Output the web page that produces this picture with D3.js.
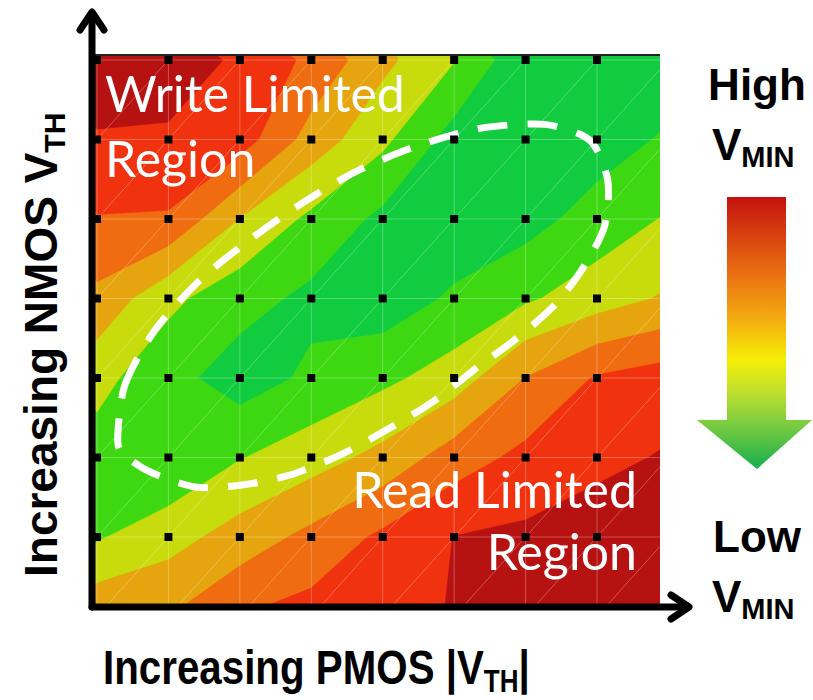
<!DOCTYPE html>
<html>
<head>
<meta charset="utf-8">
<script src="https://cdn.jsdelivr.net/npm/d3@7"></script>
<style>
  body { margin: 0; background: #fff; }
  svg { display: block; }
</style>
</head>
<body>
<svg id="chart" width="813" height="700"></svg>
<script>
// grid of simulated cells: PMOS |Vth| steps (columns) x NMOS Vth steps (rows, top = high)
const pmosSteps = d3.range(9);
const nmosSteps = d3.range(8);

// Vmin level (0 = lowest band ... 7 = highest band)
const vminGrid = [
  [7.0, 6.71, 5.78, 4.79, 3.26, 2.05, 0.2, 0.2, 0.4],
  [5.85, 5.8, 5.5, 3.58, 2.23, 0.57, 0.2, 0.5, 1.15],
  [4.95, 4.9, 2.97, 1.77, 0.75, 0.3, 0.6, 1.43, 2.1],
  [3.75, 2.23, 1.4, 0.75, 0.4, 1.16, 1.86, 2.5, 3.15],
  [2.3, 1.35, 0.5, 1.19, 1.76, 2.47, 4.02, 5.1, 5.5],
  [1.6, 1.05, 1.95, 2.55, 3.3, 4.5, 5.27, 5.75, 6.1],
  [1.9, 2.6, 3.43, 4.28, 5.2, 6.02, 6.2, 6.5, 6.9],
  [3.8, 4.0, 5.0, 5.4, 5.7, 6.05, 6.7, 6.9, 7.0]
];

const bandThresholds = [1, 2, 3, 4, 5, 6];
const bandColors = ['#12cc40', '#3ed812', '#c8db0c', '#e6a50e', '#ef6c10', '#f1320f', '#b71212'];

// dashed "good Vmin" loop, in grid units (column, row)
const loopPoints = [
  [0.29, 4.78], [0.39, 4.09], [0.81, 3.40], [1.44, 2.77], [2.14, 2.26],
  [2.84, 1.82], [3.61, 1.41], [4.45, 1.09], [5.36, 0.86], [6.27, 0.81],
  [6.90, 1.01], [7.15, 1.51], [7.11, 2.08], [6.83, 2.58], [6.41, 3.08],
  [5.85, 3.52], [5.36, 3.84], [4.73, 4.28], [4.10, 4.63], [3.40, 4.97],
  [2.70, 5.22], [2.00, 5.35], [1.37, 5.37], [0.74, 5.18], [0.39, 4.97]
];

const legendStops = [
  [0, '#c4120e'], [0.3, '#ec7612'], [0.45, '#f3ad10'], [0.6, '#f6ee06'],
  [0.72, '#bde030'], [0.86, '#6cc843'], [1, '#16ae4a']
];

const svg = d3.select('#chart');
const plot = { left: 92, right: 660, top: 55, bottom: 607 };

const x = d3.scaleLinear().domain([0, 7]).range([97, 597]);
const y = d3.scaleLinear().domain([0, 6]).range([60, 537]);

const defs = svg.append('defs');
defs.append('clipPath').attr('id', 'plotClip')
  .append('rect')
    .attr('x', plot.left).attr('y', plot.top)
    .attr('width', plot.right - plot.left).attr('height', plot.bottom - plot.top);

const field = svg.append('g').attr('clip-path', 'url(#plotClip)');

field.append('rect')
  .attr('x', plot.left).attr('y', plot.top)
  .attr('width', plot.right - plot.left).attr('height', plot.bottom - plot.top)
  .attr('fill', bandColors[0]);

const contours = d3.contours()
  .size([pmosSteps.length, nmosSteps.length])
  .thresholds(bandThresholds)(vminGrid.flat());

const toPlot = d3.geoTransform({
  point(px, py) { this.stream.point(x(px - 0.5), y(py - 0.5)); }
});
const contourPath = d3.geoPath(toPlot);

field.selectAll('path.band')
  .data(contours)
  .join('path')
    .attr('class', 'band')
    .attr('d', contourPath)
    .attr('fill', (d, i) => bandColors[i + 1])
    .attr('stroke', (d, i) => bandColors[i + 1])
    .attr('stroke-width', 0.6);

// faint triangulation mesh
const mesh = field.append('g')
  .attr('stroke', '#fff').attr('stroke-opacity', 0.28).attr('stroke-width', 1);

mesh.selectAll('line.v').data(pmosSteps).join('line')
  .attr('x1', d => x(d)).attr('x2', d => x(d))
  .attr('y1', plot.top).attr('y2', plot.bottom);

mesh.selectAll('line.h').data(nmosSteps).join('line')
  .attr('y1', d => y(d)).attr('y2', d => y(d))
  .attr('x1', plot.left).attr('x2', plot.right);

const cells = d3.cross(pmosSteps, nmosSteps);
mesh.selectAll('line.d').data(cells).join('line')
  .attr('x1', d => x(d[0])).attr('y1', d => y(d[1] + 1))
  .attr('x2', d => x(d[0] + 1)).attr('y2', d => y(d[1]));

// dashed loop
field.append('path')
  .datum(loopPoints)
  .attr('d', d3.line().x(d => x(d[0])).y(d => y(d[1])).curve(d3.curveCardinalClosed.tension(0.2)))
  .attr('fill', 'none')
  .attr('stroke', '#fff')
  .attr('stroke-width', 7)
  .attr('stroke-dasharray', '30 20');

// simulation points
const nodes = d3.cross(pmosSteps, nmosSteps)
  .filter(d => x(d[0]) < plot.right && y(d[1]) < plot.bottom);

svg.selectAll('rect.pt').data(nodes).join('rect')
  .attr('class', 'pt')
  .attr('x', d => x(d[0]) - 4).attr('y', d => y(d[1]) - 4)
  .attr('width', 8).attr('height', 8)
  .attr('fill', '#000');

// region labels
const labelFont = 'Lato, "Open Sans", sans-serif';
const labels = svg.append('g')
  .attr('fill', '#fff').attr('font-family', labelFont).attr('font-size', 50);

labels.append('text').attr('x', 105).attr('y', 112).text('Write Limited');
labels.append('text').attr('x', 105).attr('y', 177).text('Region');
labels.append('text').attr('x', 637).attr('y', 508).attr('text-anchor', 'end').text('Read Limited');
labels.append('text').attr('x', 637).attr('y', 570).attr('text-anchor', 'end').text('Region');

// top border
svg.append('line')
  .attr('x1', plot.left).attr('x2', plot.right)
  .attr('y1', plot.top).attr('y2', plot.top)
  .attr('stroke', '#222').attr('stroke-width', 2);

// axes with arrow heads
const axes = svg.append('g')
  .attr('stroke', '#000').attr('stroke-width', 7).attr('fill', 'none')
  .attr('stroke-linecap', 'round').attr('stroke-linejoin', 'round');

axes.append('path').attr('d', `M${plot.left},${plot.bottom}V14`);
axes.append('path').attr('d', `M${plot.left - 12},30L${plot.left},12L${plot.left + 12},30`);
axes.append('path').attr('d', `M${plot.left},${plot.bottom}H688`);
axes.append('path').attr('d', `M671,${plot.bottom - 12}L689,${plot.bottom}L671,${plot.bottom + 12}`);

// axis titles
const titleFont = '"Liberation Sans", Arial, sans-serif';

const xTitle = svg.append('text')
  .attr('transform', 'translate(103,684) scale(0.84,1)')
  .attr('font-family', titleFont).attr('font-weight', 'bold').attr('font-size', 48);
xTitle.append('tspan').text('Increasing PMOS |V');
xTitle.append('tspan').attr('font-size', 31).attr('dy', 8).text('TH');
xTitle.append('tspan').attr('dy', -8).text('|');

const yTitle = svg.append('text')
  .attr('transform', 'translate(57,577) rotate(-90)')
  .attr('font-family', titleFont).attr('font-weight', 'bold').attr('font-size', 46);
yTitle.append('tspan').text('Increasing NMOS V');
yTitle.append('tspan').attr('font-size', 30).attr('dy', 8).text('TH');

// legend: Vmin colour arrow
const grad = defs.append('linearGradient').attr('id', 'vminGrad')
  .attr('x1', 0).attr('y1', 0).attr('x2', 0).attr('y2', 1);
grad.selectAll('stop').data(legendStops).join('stop')
  .attr('offset', d => d[0]).attr('stop-color', d => d[1]);

svg.append('path')
  .attr('d', 'M727,197H786V420H812L757,469L697,420H727Z')
  .attr('fill', 'url(#vminGrad)');

const legend = svg.append('g')
  .attr('font-family', titleFont).attr('font-weight', 'bold').attr('fill', '#000');

legend.append('text').attr('x', 757).attr('y', 100).attr('text-anchor', 'middle')
  .attr('font-size', 44).text('High');
const vHigh = legend.append('text').attr('x', 712).attr('y', 160).attr('font-size', 44);
vHigh.append('tspan').text('V');
vHigh.append('tspan').attr('font-size', 29).attr('dy', 7).text('MIN');

legend.append('text').attr('x', 757).attr('y', 552).attr('text-anchor', 'middle')
  .attr('font-size', 44).text('Low');
const vLow = legend.append('text').attr('x', 712).attr('y', 612).attr('font-size', 44);
vLow.append('tspan').text('V');
vLow.append('tspan').attr('font-size', 29).attr('dy', 7).text('MIN');
</script>
</body>
</html>
